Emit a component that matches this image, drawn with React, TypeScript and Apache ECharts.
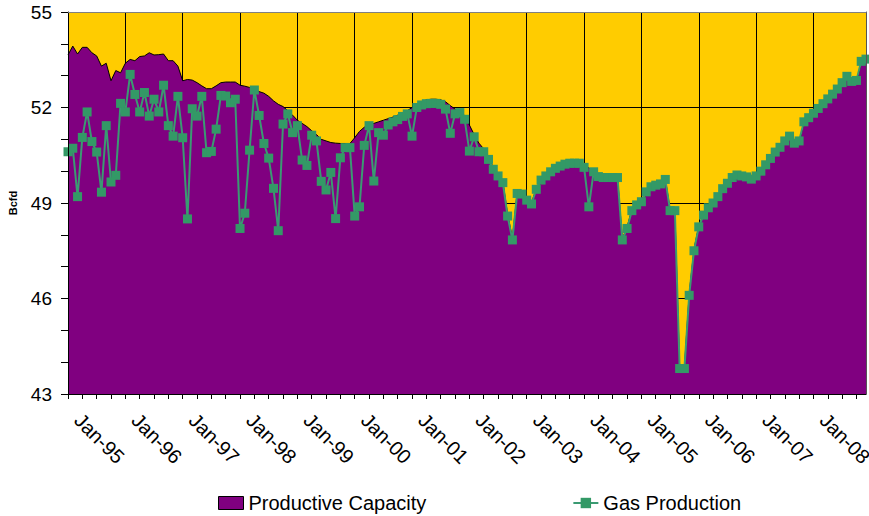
import React, { useEffect, useRef } from "react";
import * as echarts from "echarts";

const monthNames = ["Jan", "Feb", "Mar", "Apr", "May", "Jun", "Jul", "Aug", "Sep", "Oct", "Nov", "Dec"];
const yearLabels = ["95", "96", "97", "98", "99", "00", "01", "02", "03", "04", "05", "06", "07", "08"];
const categories = yearLabels.flatMap((y) => monthNames.map((m) => `${m}-${y}`));

// Productive capacity, Bcfd (monthly, Jan-95 .. Dec-08)
const productiveCapacity = [
  53.65, 53.93, 53.68, 53.89, 53.89, 53.72, 53.62, 53.3, 53.39, 52.84, 53.16, 53.09,
  53.39, 53.51, 53.47, 53.6, 53.62, 53.72, 53.65, 53.66, 53.68, 53.47, 53.47, 53.3,
  52.84, 52.88, 52.86, 52.78, 52.68, 52.59, 52.59, 52.68, 52.78, 52.8, 52.8, 52.8,
  52.7, 52.67, 52.63, 52.58, 52.5, 52.45, 52.35, 52.21, 52.1, 52.03, 51.9, 51.76,
  51.6, 51.5, 51.4, 51.27, 51.15, 51.0, 50.95, 50.9, 50.88, 50.87, 50.87, 50.87,
  51.05, 51.25, 51.38, 51.47, 51.5, 51.55, 51.6, 51.65, 51.7, 51.76, 51.82, 51.9,
  52.0, 52.1, 52.18, 52.24, 52.26, 52.26, 52.24, 52.18, 52.06, 51.95, 51.88, 51.75,
  51.45, 51.15, 50.88, 50.7, 50.42, 50.12, 49.9, 49.68, 48.65, 47.9, 49.34, 49.3,
  49.12, 49.0, 49.46, 49.75, 49.88, 50.0, 50.1, 50.18, 50.24, 50.27, 50.27, 50.27,
  50.2, 50.1, 50.0, 49.85, 49.82, 49.82, 49.82, 49.82, 47.88, 48.24, 48.8, 48.98,
  49.08, 49.38, 49.54, 49.6, 49.64, 49.77, 48.8, 48.8, 43.85, 43.85, 46.15, 47.55,
  48.28, 48.62, 48.82, 48.97, 49.15, 49.4, 49.57, 49.75, 49.83, 49.8, 49.77, 49.7,
  49.8, 49.95, 50.15, 50.35, 50.55, 50.7, 50.9, 51.0, 50.85, 50.9, 51.5, 51.63,
  51.77, 51.92, 52.07, 52.22, 52.37, 52.53, 52.73, 52.93, 52.78, 52.8, 53.4, 53.47,
];

// Gas production, Bcfd
const gasProduction = [
  50.61, 50.72, 49.2, 51.06, 51.86, 50.93, 50.6, 49.34, 51.43, 49.66, 49.87, 52.13,
  51.86, 53.04, 52.41, 51.86, 52.47, 51.73, 52.26, 51.86, 52.7, 51.43, 51.1, 52.35,
  51.05, 48.5, 51.96, 51.73, 52.35, 50.58, 50.62, 51.32, 52.38, 52.36, 52.15, 52.26,
  48.2, 48.68, 50.66, 52.55, 51.75, 50.87, 50.41, 49.46, 48.13, 51.48, 51.8, 51.21,
  51.43, 50.35, 50.18, 51.13, 50.95, 49.68, 49.41, 49.96, 48.51, 50.42, 50.74, 50.74,
  48.59, 48.88, 50.81, 51.43, 49.69, 51.21, 51.13, 51.45, 51.55, 51.62, 51.72, 51.8,
  51.1, 52.0, 52.08, 52.12, 52.13, 52.13, 52.1, 51.95, 51.19, 51.8, 51.84, 51.63,
  50.63, 51.08, 50.61, 50.61, 50.37, 50.06, 49.85, 49.64, 48.59, 47.84, 49.3, 49.28,
  49.09, 48.97, 49.43, 49.72, 49.85, 49.98, 50.09, 50.16, 50.22, 50.25, 50.25, 50.25,
  50.12, 48.88, 49.98, 49.83, 49.8, 49.8, 49.8, 49.8, 47.84, 48.2, 48.76, 48.94,
  49.04, 49.35, 49.51, 49.56, 49.6, 49.74, 48.76, 48.76, 43.8, 43.8, 46.1, 47.5,
  48.25, 48.62, 48.85, 49.0, 49.2, 49.45, 49.62, 49.8, 49.88, 49.85, 49.82, 49.75,
  49.85, 50.0, 50.2, 50.4, 50.6, 50.75, 50.95, 51.1, 50.88, 50.95, 51.55, 51.68,
  51.82, 51.97, 52.12, 52.27, 52.42, 52.58, 52.78, 52.98, 52.82, 52.85, 53.45, 53.52,
];

const Y_MIN = 43;
const Y_MAX = 55;

const FONT = 'Arial, "Liberation Sans", sans-serif';

export default function App() {
  const ref = useRef<HTMLDivElement>(null);

  useEffect(() => {
    document.body.style.margin = "0";
    if (!ref.current) return;
    const chart = echarts.init(ref.current, undefined, { renderer: "svg" });
    const option: any = {
      animation: false,
      backgroundColor: "#ffffff",
      textStyle: { fontFamily: FONT },
      grid: {
        left: 68,
        right: 3,
        top: 12,
        bottom: 122,
        containLabel: false,
        outerBoundsMode: "none",
        show: true,
        backgroundColor: "#FFCC00",
        borderWidth: 0,
      },
      legend: {
        top: 488,
        left: 213,
        itemWidth: 25,
        itemHeight: 13,
        itemGap: 146,
        textStyle: { fontSize: 20, color: "#000", fontFamily: FONT },
        data: [
          {
            name: "Productive Capacity",
            icon: "rect",
            itemStyle: { color: "#800080", borderColor: "#000", borderWidth: 1 },
          },
          { name: "Gas Production" },
        ],
      },
      xAxis: [
        {
          type: "category",
          data: categories,
          boundaryGap: false,
          axisLine: { show: false },
          axisTick: { show: false },
          axisLabel: { show: false },
          splitLine: {
            show: true,
            interval: (i: number) => i % 12 === 0,
            lineStyle: { color: "#000", width: 1 },
          },
        },
        {
          type: "category",
          data: categories,
          boundaryGap: false,
          position: "bottom",
          z: 5,
          axisLine: { show: true, lineStyle: { color: "#000", width: 1 } },
          axisTick: {
            show: true,
            interval: (i: number) => i % 3 === 0,
            length: 5,
            lineStyle: { color: "#000" },
          },
          axisLabel: {
            interval: (i: number) => i % 12 === 0,
            rotate: -45,
            fontSize: 20,
            color: "#000",
            margin: 13,
            padding: [0, 0, 0, 14],
            fontFamily: FONT,
          },
          splitLine: { show: false },
        },
        {
          type: "category",
          data: categories,
          boundaryGap: false,
          position: "top",
          z: 5,
          axisLine: { show: true, lineStyle: { color: "#808080", width: 1 } },
          axisTick: { show: false },
          axisLabel: { show: false },
          splitLine: { show: false },
        },
      ],
      yAxis: [
        {
          type: "value",
          min: Y_MIN,
          max: Y_MAX,
          interval: 3,
          axisLine: { show: false },
          axisTick: { show: false },
          axisLabel: { show: false },
          splitLine: { show: true, lineStyle: { color: "#000", width: 1 } },
        },
        {
          type: "value",
          min: Y_MIN,
          max: Y_MAX,
          interval: 1,
          position: "left",
          z: 5,
          name: "Bcfd",
          nameLocation: "middle",
          nameGap: 50,
          nameRotate: 90,
          nameTextStyle: { fontSize: 11, fontWeight: "bold", color: "#000", fontFamily: FONT },
          axisLine: { show: true, lineStyle: { color: "#000", width: 1 } },
          axisTick: { show: true, length: 7, lineStyle: { color: "#000" } },
          axisLabel: {
            fontSize: 19,
            color: "#000",
            margin: 16,
            fontFamily: FONT,
            formatter: (v: number) => ((v - Y_MIN) % 3 === 0 ? String(v) : ""),
          },
          splitLine: { show: false },
        },
        {
          type: "value",
          min: Y_MIN,
          max: Y_MAX,
          position: "right",
          z: 5,
          axisLine: { show: true, lineStyle: { color: "#555", width: 1 } },
          axisTick: { show: false },
          axisLabel: { show: false },
          splitLine: { show: false },
        },
      ],
      series: [
        {
          name: "Productive Capacity",
          type: "line",
          xAxisIndex: 0,
          yAxisIndex: 0,
          data: productiveCapacity,
          showSymbol: false,
          symbol: "none",
          lineStyle: { color: "#000", width: 1 },
          itemStyle: { color: "#800080" },
          areaStyle: { color: "#800080", opacity: 1, origin: "start" },
          z: 2,
        },
        {
          name: "Gas Production",
          type: "line",
          xAxisIndex: 0,
          yAxisIndex: 0,
          data: gasProduction,
          symbol: "rect",
          symbolSize: 9,
          showAllSymbol: true,
          lineStyle: { color: "#3a9a72", width: 2 },
          itemStyle: { color: "#339966" },
          z: 3,
        },
      ],
    };
    chart.setOption(option);
    return () => chart.dispose();
  }, []);

  return <div ref={ref} style={{ width: 869, height: 516 }} />;
}
